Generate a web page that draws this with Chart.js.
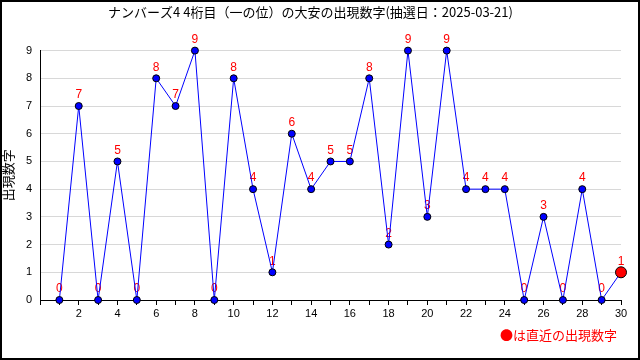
<!DOCTYPE html>
<html>
<head>
<meta charset="utf-8">
<script src="https://cdn.jsdelivr.net/npm/chart.js@4"></script>
<style>
  html, body { margin: 0; padding: 0; background: #fff; }
  #wrap { width: 640px; height: 360px; position: relative; }
</style>
</head>
<body>
<div id="wrap"><canvas id="c" width="640" height="360"></canvas></div>
<script>
// ── Data ──────────────────────────────────────
const titleText = 'ナンバーズ4 4桁目（一の位）の大安の出現数字(抽選日：2025-03-21)';
const yTitle = '出現数字';
const legendText = '●は直近の出現数字';
const drawNo = [1, 2, 3, 4, 5, 6, 7, 8, 9, 10, 11, 12, 13, 14, 15,
                16, 17, 18, 19, 20, 21, 22, 23, 24, 25, 26, 27, 28, 29, 30];
const digits = [0, 7, 0, 5, 0, 8, 7, 9, 0, 8, 4, 1, 6, 4, 5,
                5, 8, 2, 9, 3, 9, 4, 4, 4, 0, 3, 0, 4, 0, 1];
const xTickLabels = [2, 4, 6, 8, 10, 12, 14, 16, 18, 20, 22, 24, 26, 28, 30];

const JP = '"Noto Sans CJK JP", sans-serif';
const NUM = '"Liberation Sans", Arial, sans-serif';
const lastIdx = digits.length - 1;

// ── Labels above points, drawn under the line ──
const valueLabels = {
  id: 'valueLabels',
  beforeDatasetsDraw(chart) {
    const ctx = chart.ctx;
    const meta = chart.getDatasetMeta(0);
    ctx.save();
    ctx.fillStyle = '#ff0000';
    ctx.font = '12px ' + NUM;
    ctx.textAlign = 'center';
    ctx.textBaseline = 'middle';
    meta.data.forEach((pt, i) => {
      ctx.fillText(String(digits[i]), pt.x, pt.y - 11);
    });
    ctx.restore();
  }
};

// ── Frame and bottom legend note ──────────────
const frameNote = {
  id: 'frameNote',
  afterDraw(chart) {
    const ctx = chart.ctx;
    ctx.save();
    ctx.fillStyle = '#ff0000';
    ctx.font = '13px ' + JP;
    ctx.textAlign = 'right';
    ctx.textBaseline = 'middle';
    ctx.fillText(legendText, 617, 335);
    ctx.strokeStyle = '#000';
    ctx.lineWidth = 2;
    ctx.strokeRect(1, 1, 638, 358);
    ctx.restore();
  }
};

new Chart(document.getElementById('c'), {
  type: 'line',
  data: {
    datasets: [{
      data: drawNo.map((n, i) => ({ x: n, y: digits[i] })),
      borderColor: '#0000ff',
      borderWidth: 1,
      tension: 0,
      pointRadius: digits.map((_, i) => i === lastIdx ? 5.5 : 3.5),
      pointBackgroundColor: digits.map((_, i) => i === lastIdx ? '#ff0000' : '#0000ff'),
      pointBorderColor: '#000',
      pointBorderWidth: 1,
      clip: false
    }]
  },
  options: {
    responsive: false,
    animation: false,
    events: [],
    layout: { padding: { left: 0, right: 19, top: 0, bottom: 35 } },
    plugins: {
      legend: { display: false },
      tooltip: { enabled: false },
      title: {
        display: true,
        text: titleText,
        color: '#000',
        font: { family: JP, size: 13, weight: 'normal', lineHeight: 1.2 },
        padding: { top: 4, bottom: 31 }
      }
    },
    scales: {
      x: {
        type: 'linear',
        min: 0,
        max: 30,
        ticks: {
          stepSize: 1,
          autoSkip: false,
          maxRotation: 0,
          color: '#000',
          padding: 2,
          font: { family: NUM, size: 11 },
          callback: v => xTickLabels.includes(v) ? String(v) : ''
        },
        grid: { drawOnChartArea: false, drawTicks: true, tickLength: 5, color: '#000' },
        border: { color: '#000', width: 1 },
        afterFit(scale) { scale.height = 25; }
      },
      y: {
        min: 0,
        max: 9,
        ticks: {
          stepSize: 1,
          color: '#000',
          padding: 8,
          font: { family: NUM, size: 11 }
        },
        grid: { color: '#d8d8d8', drawTicks: false },
        border: { color: '#000', width: 1 },
        title: {
          display: true,
          text: yTitle,
          color: '#000',
          font: { family: JP, size: 13 },
          padding: 0
        },
        afterFit(scale) { scale.width = 40; }
      }
    }
  },
  plugins: [valueLabels, frameNote]
});
</script>
</body>
</html>
